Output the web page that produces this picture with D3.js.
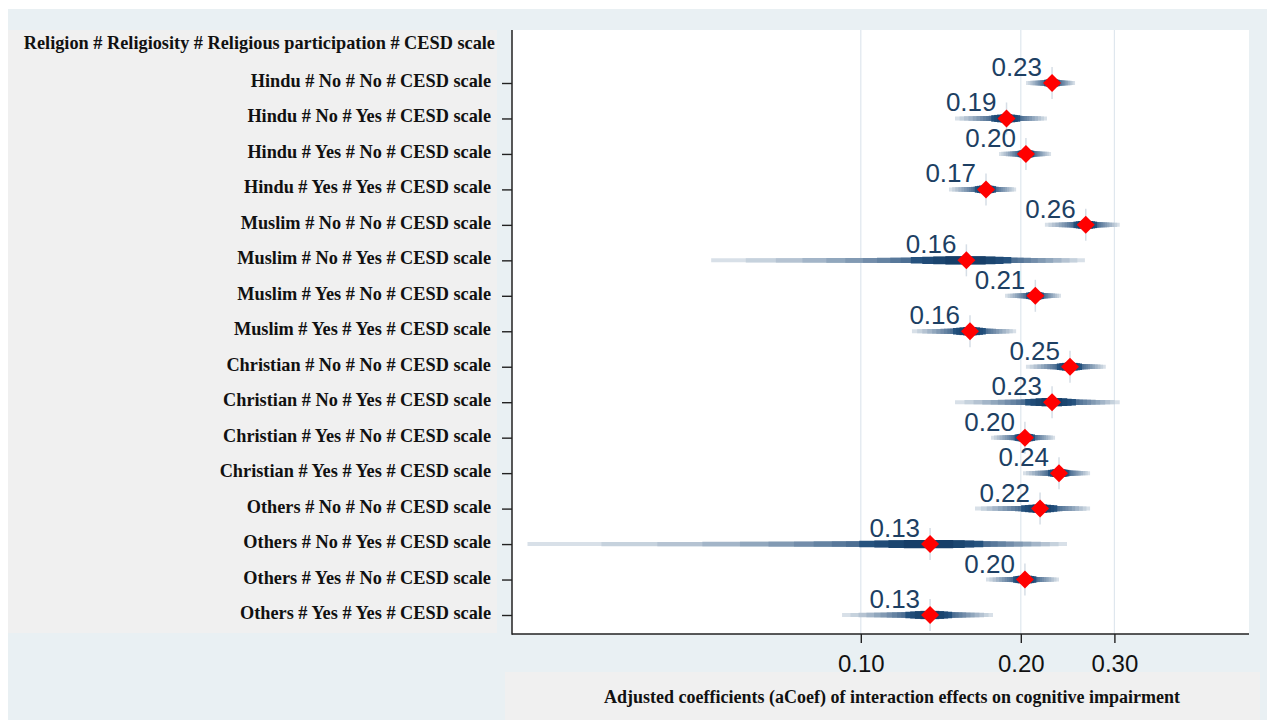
<!DOCTYPE html>
<html>
<head>
<meta charset="utf-8">
<script src="https://cdn.jsdelivr.net/npm/d3@7"></script>
<style>
  html, body { margin: 0; padding: 0; background: #ffffff; }
  svg { display: block; }
</style>
</head>
<body>
<div id="chart"></div>
<script>
'use strict';
// rows, top to bottom
const rowLabels = [
  "Hindu # No # No # CESD scale",
  "Hindu # No # Yes # CESD scale",
  "Hindu # Yes # No # CESD scale",
  "Hindu # Yes # Yes # CESD scale",
  "Muslim # No # No # CESD scale",
  "Muslim # No # Yes # CESD scale",
  "Muslim # Yes # No # CESD scale",
  "Muslim # Yes # Yes # CESD scale",
  "Christian # No # No # CESD scale",
  "Christian # No # Yes # CESD scale",
  "Christian # Yes # No # CESD scale",
  "Christian # Yes # Yes # CESD scale",
  "Others # No # No # CESD scale",
  "Others # No # Yes # CESD scale",
  "Others # Yes # No # CESD scale",
  "Others # Yes # Yes # CESD scale"
];
const headerLabel = "Religion # Religiosity # Religious participation # CESD scale";
const estimate = [0.229, 0.188, 0.2045, 0.172, 0.265, 0.158, 0.213, 0.1605,
                  0.2475, 0.229, 0.2036, 0.236, 0.2174, 0.135, 0.2036, 0.135];
const ciLower = [0.2046, 0.1504, 0.182, 0.1465, 0.222, 0.0523, 0.1868, 0.1248,
                 0.2045, 0.1504, 0.1758, 0.2019, 0.164, 0.0236, 0.172, 0.0922];
const ciUpper = [0.253, 0.224, 0.228, 0.196, 0.307, 0.264, 0.238, 0.196,
                 0.289, 0.307, 0.232, 0.270, 0.270, 0.2443, 0.236, 0.1773];
const valueLabels = ["0.23", "0.19", "0.20", "0.17", "0.26", "0.16", "0.21", "0.16",
                     "0.25", "0.23", "0.20", "0.24", "0.22", "0.13", "0.20", "0.13"];
const xTicks = [0.10, 0.20, 0.30];
const xTitle = "Adjusted coefficients (aCoef) of interaction effects on cognitive impairment";

const width = 1267, height = 720;
const plot = { left: 512, right: 1249, top: 30, bottom: 634 };
const serif = "'Liberation Serif', 'Times New Roman', serif";
const sans = "'Liberation Sans', Arial, sans-serif";

let svg = d3.select("#chart").append("svg")
  .attr("width", width)
  .attr("height", height);

// backgrounds
svg.append("rect").attr("x", 8).attr("y", 9).attr("width", width - 8).attr("height", height - 9)
  .attr("fill", "#e9f0f3");
svg.append("rect").attr("x", 8).attr("y", plot.top).attr("width", 489).attr("height", plot.bottom - plot.top - 1)
  .attr("fill", "#f0f0f0");
svg.append("rect").attr("x", 505).attr("y", 672).attr("width", 755).attr("height", 48)
  .attr("fill", "#f0f0f0");
svg.append("rect").attr("x", plot.left).attr("y", plot.top)
  .attr("width", plot.right - plot.left).attr("height", plot.bottom - plot.top)
  .attr("fill", "#ffffff");

// scales (log x)
let x = d3.scaleLog().domain([0.1, 0.3]).range([860.8, 1114.4]);
let y = d3.scalePoint().domain(rowLabels).range([83, 615]);

// gridlines
svg.append("g").selectAll("line").data(xTicks).enter().append("line")
  .attr("x1", d => x(d)).attr("x2", d => x(d))
  .attr("y1", plot.top).attr("y2", plot.bottom)
  .attr("stroke", "#dfe7ee").attr("stroke-width", 1.2);

// y axis
let yAxis = d3.axisLeft(y).tickSize(10).tickSizeOuter(0).tickPadding(11);
let gy = svg.append("g").attr("transform", "translate(" + plot.left + ",0)").call(yAxis);
gy.select(".domain").remove();
gy.selectAll(".tick line").attr("stroke", "#222").attr("stroke-width", 1.4);
gy.selectAll(".tick text")
  .attr("dy", "0.3em").attr("y", -2)
  .attr("fill", "#111")
  .style("font-family", serif).style("font-weight", "bold").style("font-size", "18.3px");

svg.append("text")
  .attr("x", 495).attr("y", y(rowLabels[0]) - 40)
  .attr("dy", "0.32em")
  .attr("text-anchor", "end")
  .attr("fill", "#111")
  .style("font-family", serif).style("font-weight", "bold").style("font-size", "18.3px")
  .text(headerLabel);

// x axis
let xAxis = d3.axisBottom(x).tickValues(xTicks).tickFormat(d3.format(".2f"))
  .tickSize(9).tickSizeOuter(0).tickPadding(11.6);
let gx = svg.append("g").attr("transform", "translate(0," + plot.bottom + ")").call(xAxis);
gx.select(".domain").remove();
gx.selectAll(".tick line").attr("stroke", "#222").attr("stroke-width", 1.4);
gx.selectAll(".tick text")
  .attr("fill", "#111")
  .style("font-family", sans).style("font-size", "24px");

// axis lines
svg.append("line").attr("x1", plot.left).attr("x2", plot.left)
  .attr("y1", plot.top).attr("y2", plot.bottom + 0.7)
  .attr("stroke", "#222").attr("stroke-width", 1.5);
svg.append("line").attr("x1", plot.left).attr("x2", plot.right)
  .attr("y1", plot.bottom).attr("y2", plot.bottom)
  .attr("stroke", "#222").attr("stroke-width", 1.5);

svg.append("text")
  .attr("x", 892).attr("y", 697).attr("dy", "0.32em")
  .attr("text-anchor", "middle").attr("fill", "#111")
  .style("font-family", serif).style("font-weight", "bold").style("font-size", "18px")
  .text(xTitle);

// smoothed confidence bands (share of the CI half-width), outer to inner
const lightBands = [1, 0.92, 0.84, 0.76, 0.68, 0.61, 0.54, 0.48, 0.42, 0.37];
const darkBands = [0.32, 0.26, 0.2, 0.13];
let lightColor = d3.interpolateRgb("#d8e0e8", "#4d6f93");
let darkColor = d3.interpolateRgb("#25527e", "#163e68");

let rows = rowLabels.map(function (label, i) {
  return { label: label, m: estimate[i], lo: ciLower[i], hi: ciUpper[i], text: valueLabels[i] };
});

let marks = svg.append("g");
rows.forEach(function (r) {
  let cy = y(r.label);
  let xm = x(r.m);
  let bandX1 = f => x(r.m - f * (r.m - r.lo));
  let bandX2 = f => x(r.m + f * (r.hi - r.m));
  let g = marks.append("g");
  g.append("line")
    .attr("x1", xm).attr("x2", xm).attr("y1", cy - 16).attr("y2", cy + 16)
    .attr("stroke", "#d6dee6").attr("stroke-width", 1.5);
  g.selectAll("line.light").data(lightBands).enter().append("line")
    .attr("class", "light")
    .attr("x1", bandX1).attr("x2", bandX2)
    .attr("y1", cy).attr("y2", cy)
    .attr("stroke", f => lightColor((1 - f) / 0.63))
    .attr("stroke-width", f => 4 + 1.2 * (1 - f) / 0.63);
  g.selectAll("line.dark").data(darkBands).enter().append("line")
    .attr("class", "dark")
    .attr("x1", bandX1).attr("x2", bandX2)
    .attr("y1", cy).attr("y2", cy)
    .attr("stroke", (f, i) => darkColor(i / (darkBands.length - 1)))
    .attr("stroke-width", (f, i) => 6.5 + 0.6 * i);
  g.append("path")
    .attr("d", "M" + xm + "," + (cy - 9) + "L" + (xm + 9) + "," + cy + "L" + xm + "," + (cy + 9) + "L" + (xm - 9) + "," + cy + "Z")
    .attr("fill", "#ff0000");
  g.append("text")
    .attr("x", xm - 10).attr("y", cy - 7)
    .attr("text-anchor", "end")
    .attr("fill", "#1d3f63")
    .style("font-family", sans).style("font-size", "26px")
    .text(r.text);
});
</script>
</body>
</html>
